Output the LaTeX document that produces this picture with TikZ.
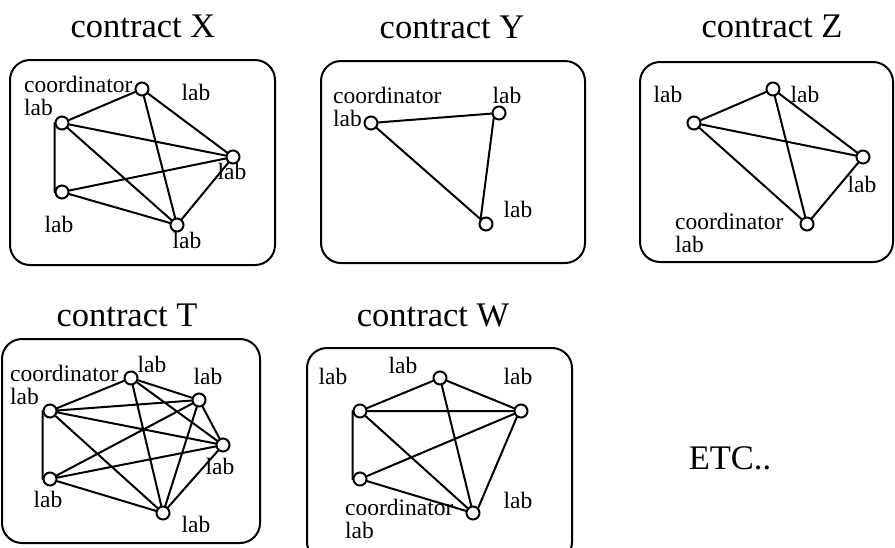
\documentclass[tikz,border=0pt]{standalone}
\usepackage{fontspec}
\setmainfont{Liberation Serif}

\begin{document}
\begin{tikzpicture}[x=1pt,y=-1pt,cap=round,
  vertex/.style={draw,circle,fill=white,minimum size=13pt,inner sep=0pt,line width=2pt},
  link/.style={line width=2pt},
  cbox/.style={draw,line width=2pt,rounded corners=20pt},
  labtext/.style={inner sep=0pt,anchor=base,font=\fontsize{23.5}{22.5}\selectfont},
  ctitle/.style={inner sep=0pt,anchor=base,font=\fontsize{34.5}{40}\selectfont}]

	\useasboundingbox (0,0) rectangle (895,547);

	% titles
	\node[ctitle] (tx) at (143,37) {contract X};
	\node[ctitle] (ty) at (452,38) {contract Y};
	\node[ctitle] (tz) at (772,37) {contract Z};
	\node[ctitle] (tt) at (127,326) {contract T};
	\node[ctitle] (tw) at (433,326) {contract W};
	\node[ctitle] (etc) at (730,469) {ETC..};

	% draw the boxes
	\draw[cbox] (10,60) rectangle (275,265);
	\draw[cbox] (321,61) rectangle (585,263);
	\draw[cbox] (640,62) rectangle (893,262);
	\draw[cbox] (2,339) rectangle (260,543);
	\draw[cbox] (307,348) rectangle (572,562);

	% contract X
	\node[vertex] (xa) at (142,89) {};
	\node[vertex] (xb) at (62,123) {};
	\node[vertex] (xc) at (233,157) {};
	\node[vertex] (xd) at (62,192) {};
	\node[vertex] (xe) at (177,225) {};
	\draw[link] (xb) -- (xa) (xa) -- (xc) (xa) -- (xe)
	      (xb) -- (xc) (xb) -- (xe) (xd) -- (xc)
	      (xd) -- (xe) (xc) -- (xe) (xb.west) -- (xd.west);
	\node[labtext,anchor=base west,align=left] (xl0) at (24,115) {coordinator\\lab};
	\node[labtext] (xl1) at (196,100) {lab};
	\node[labtext] (xl2) at (232,179) {lab};
	\node[labtext] (xl3) at (59,232) {lab};
	\node[labtext] (xl4) at (187,248) {lab};

	% contract Y
	\node[vertex] (ya) at (371,123) {};
	\node[vertex] (yb) at (499,113) {};
	\node[vertex] (yc) at (486,224) {};
	\draw[link] (ya) -- (yb) (ya) -- (yc) (yb.south west) -- (yc.north west);
	\node[labtext,anchor=base west,align=left] (yl0) at (333,126) {coordinator\\lab};
	\node[labtext] (yl1) at (507,103) {lab};
	\node[labtext] (yl2) at (518,217) {lab};

	% contract Z
	\node[vertex] (za) at (694,123) {};
	\node[vertex] (zb) at (773,89) {};
	\node[vertex] (zc) at (863,157) {};
	\node[vertex] (zd) at (807,224) {};
	\draw[link] (za) -- (zb) (za) -- (zc) (za) -- (zd)
	      (zb) -- (zd) (zb) -- (zc) (zc) -- (zd);
	\node[labtext] (zl1) at (668,102) {lab};
	\node[labtext] (zl2) at (805,102) {lab};
	\node[labtext] (zl3) at (862,192) {lab};
	\node[labtext,anchor=base west,align=left] (zl0) at (675,252) {coordinator\\lab};

	% contract T
	\node[vertex] (ta) at (131,378) {};
	\node[vertex] (tb) at (199,400) {};
	\node[vertex] (tc) at (223,445) {};
	\node[vertex] (td) at (163,513) {};
	\node[vertex] (te) at (50,479) {};
	\node[vertex] (tf) at (50,411) {};
	\draw[link] (tf) -- (ta) (ta) -- (tb) (ta) -- (tc) (ta) -- (td)
	      (tf) -- (tb) (tf) -- (tc) (tf) -- (td)
	      (te) -- (tb) (te) -- (tc) (te) -- (td)
	      (tb) -- (tc) (tb) -- (td) (tc) -- (td) (tf.west) -- (te.west);
	\node[labtext,anchor=base west,align=left] (tl0) at (10,404) {coordinator\\lab};
	\node[labtext] (tl1) at (152,372) {lab};
	\node[labtext] (tl2) at (208,384) {lab};
	\node[labtext] (tl3) at (220,474) {lab};
	\node[labtext] (tl4) at (48,507) {lab};
	\node[labtext] (tl5) at (196,532) {lab};

	% contract W
	\node[vertex] (wa) at (440,378) {};
	\node[vertex] (wb) at (521,411) {};
	\node[vertex] (wc) at (473,513) {};
	\node[vertex] (wd) at (360,479) {};
	\node[vertex] (we) at (360,411) {};
	\draw[link] (we) -- (wa) (we) -- (wb) (we) -- (wc) (we.west) -- (wd.west)
	      (wa) -- (wb) (wa) -- (wc) (wd) -- (wb) (wd) -- (wc)
	      (wb.236) -- (wc.45);
	\node[labtext] (wl1) at (333,384) {lab};
	\node[labtext] (wl2) at (403,373) {lab};
	\node[labtext] (wl3) at (518,384) {lab};
	\node[labtext] (wl4) at (518,508) {lab};
	\node[labtext,anchor=base west,align=left] (wl0) at (345,538) {coordinator\\lab};

\end{tikzpicture}
\end{document}
